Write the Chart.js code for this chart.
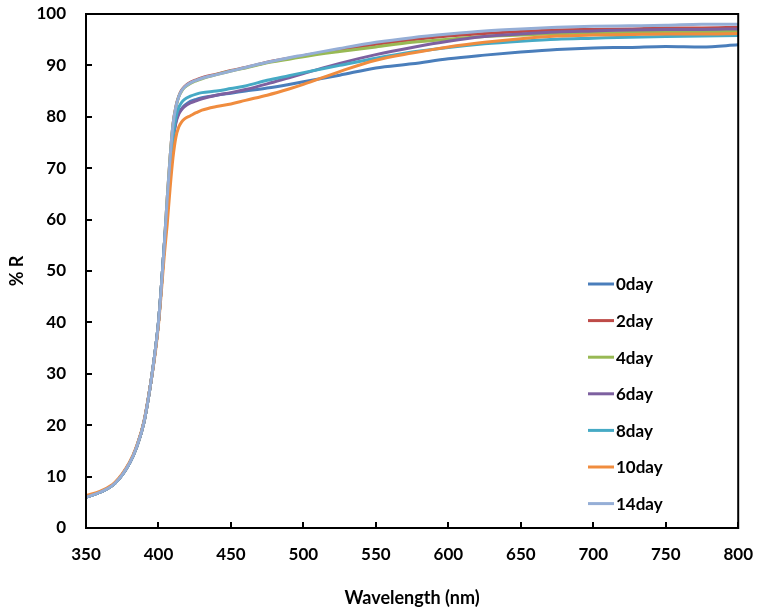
<!DOCTYPE html>
<html>
<head>
<meta charset="utf-8">
<script src="https://cdn.jsdelivr.net/npm/chart.js@4.4.1/dist/chart.umd.min.js"></script>
<style>
  html, body { margin: 0; padding: 0; background: #fff; }
  #wrap { width: 761px; height: 615px; }
</style>
</head>
<body>
<div id="wrap"><canvas id="reflect"></canvas></div>
<script>
// wavelength (nm)
const wavelengths = [350,360,370,380,385,390,395,398,400,402,404,406,408,410,412,414,416,418,422,426,430,440,450,460,475,490,500,525,550,575,600,625,650,675,700,725,750,775,800];

// % R per sample age
const day0  = [6.0,7.0,8.7,12.6,15.8,20.6,28.8,35,40,47,55,62,69.5,75.5,79,80.8,81.6,82.2,83.0,83.4,83.7,84.2,84.6,85.0,85.6,86.3,86.8,88.1,89.5,90.3,91.3,92.0,92.6,93.1,93.4,93.5,93.7,93.6,94.0];
const day2  = [6.0,7.0,8.7,12.6,15.8,20.6,28.8,35,40,47,55,64,72,78.5,82,84,85.2,85.9,86.7,87.2,87.6,88.3,89.0,89.6,90.6,91.4,91.9,93.0,94.1,95.0,95.7,96.2,96.6,96.9,97.0,97.1,97.3,97.3,97.4];
const day4  = [6.0,7.0,8.7,12.6,15.8,20.6,28.8,35,40,47,55,64,72,78.3,81.8,83.9,85.0,85.7,86.5,87.0,87.4,88.2,88.9,89.5,90.5,91.2,91.7,92.7,93.6,94.5,95.1,95.6,95.9,96.2,96.3,96.4,96.5,96.6,96.6];
const day6  = [6.0,7.0,8.7,12.6,15.8,20.6,28.8,35,40,47,55,62,69.5,75.3,78.8,80.5,81.4,82.0,82.7,83.1,83.5,84.2,84.7,85.3,86.4,87.6,88.4,90.4,92.1,93.5,94.7,95.6,96.1,96.5,96.7,96.9,97.0,97.0,97.1];
const day8  = [6.0,7.0,8.7,12.6,15.8,20.6,28.8,35,40,47,55,62.5,70,76,79.8,81.8,82.8,83.4,84.0,84.4,84.7,85.0,85.5,86.0,87.1,88.0,88.6,90.0,91.4,92.6,93.5,94.2,94.7,95.1,95.3,95.5,95.6,95.7,95.8];
const day10 = [6.3,7.2,8.9,12.8,16.0,20.8,28.8,34.5,39.5,46,53,59,66,72,76,78,79,79.6,80.2,80.8,81.3,82.0,82.5,83.2,84.2,85.4,86.3,88.8,91.0,92.4,93.6,94.5,95.2,95.7,95.9,96.0,96.1,96.1,96.2];
const day14 = [6.0,7.0,8.7,12.6,15.8,20.6,28.8,35,40,47,55,64,72,78.4,81.9,83.9,85.1,85.8,86.6,87.1,87.5,88.2,88.9,89.6,90.6,91.5,92.0,93.3,94.5,95.4,96.1,96.7,97.1,97.4,97.6,97.7,97.8,98.0,98.0];

const seriesNames = ['0day', '2day', '4day', '6day', '8day', '10day', '14day'];
const seriesValues = [day0, day2, day4, day6, day8, day10, day14];
const seriesColors = ['#4A7EBB', '#BE4B48', '#98B954', '#7D60A0', '#46AAC5', '#F08C3E', '#95AED6'];

const xTicks = [350, 400, 450, 500, 550, 600, 650, 700, 750, 800];
const yTicks = [0, 10, 20, 30, 40, 50, 60, 70, 80, 90, 100];

const FONT = 'Lato, "Open Sans", sans-serif';

const datasets = seriesNames.map((name, i) => ({
  label: name,
  data: wavelengths.map((w, k) => ({ x: w, y: seriesValues[i][k] })),
  borderColor: seriesColors[i],
  backgroundColor: seriesColors[i],
  borderWidth: 3,
  pointRadius: 0,
  cubicInterpolationMode: 'monotone',
  order: 7 - i
}));

// box round the plot, inward tick marks and the legend inside the plot
const frame = {
  id: 'frame',
  afterDraw(chart) {
    const { ctx, chartArea: a, scales } = chart;
    ctx.save();
    ctx.strokeStyle = '#000';
    ctx.lineWidth = 2;
    ctx.strokeRect(a.left, a.top, a.right - a.left, a.bottom - a.top);
    ctx.beginPath();
    xTicks.forEach(v => {
      const px = Math.round(scales.x.getPixelForValue(v));
      ctx.moveTo(px, a.bottom);
      ctx.lineTo(px, a.bottom - 6);
    });
    yTicks.forEach(v => {
      const py = Math.round(scales.y.getPixelForValue(v));
      ctx.moveTo(a.left, py);
      ctx.lineTo(a.left + 6, py);
    });
    ctx.stroke();

    const lx = 588, ly = 284, step = 36.6;
    ctx.font = 'bold 17px ' + FONT;
    ctx.textBaseline = 'middle';
    ctx.textAlign = 'left';
    chart.data.datasets.forEach((ds, i) => {
      const y = ly + i * step;
      ctx.strokeStyle = ds.borderColor;
      ctx.lineWidth = 3;
      ctx.beginPath();
      ctx.moveTo(lx, y);
      ctx.lineTo(lx + 26, y);
      ctx.stroke();
      ctx.fillStyle = '#000';
      ctx.fillText(ds.label, lx + 28, y + 1);
    });
    ctx.restore();
  }
};

new Chart(document.getElementById('reflect'), {
  type: 'line',
  data: { datasets: datasets },
  options: {
    responsive: true,
    maintainAspectRatio: false,
    animation: false,
    layout: { padding: { top: 14, right: 22, left: 0, bottom: 0 } },
    plugins: {
      legend: { display: false },
      tooltip: { enabled: false }
    },
    scales: {
      x: {
        type: 'linear',
        min: 350,
        max: 800,
        afterBuildTicks: s => { s.ticks = xTicks.map(v => ({ value: v })); },
        afterFit: s => { s.height = 87; },
        grid: { display: false },
        border: { display: false },
        ticks: {
          color: '#000',
          padding: 8,
          maxRotation: 0,
          font: { family: FONT, size: 17, weight: 'bold' }
        },
        title: {
          display: true,
          text: 'Wavelength (nm)',
          color: '#000',
          padding: { top: 0, bottom: 6 },
          font: { family: FONT, size: 18, weight: 'bold' }
        }
      },
      y: {
        min: 0,
        max: 100,
        afterBuildTicks: s => { s.ticks = yTicks.map(v => ({ value: v })); },
        afterFit: s => { s.width = 86; s.paddingTop = 0; s.paddingBottom = 0; },
        grid: { display: false },
        border: { display: false },
        ticks: {
          color: '#000',
          padding: 12,
          font: { family: FONT, size: 17, weight: 'bold' }
        },
        title: {
          display: true,
          text: '% R',
          color: '#000',
          padding: { top: 6, bottom: 0 },
          font: { family: FONT, size: 18, weight: 'bold' }
        }
      }
    }
  },
  plugins: [frame]
});
</script>
</body>
</html>
